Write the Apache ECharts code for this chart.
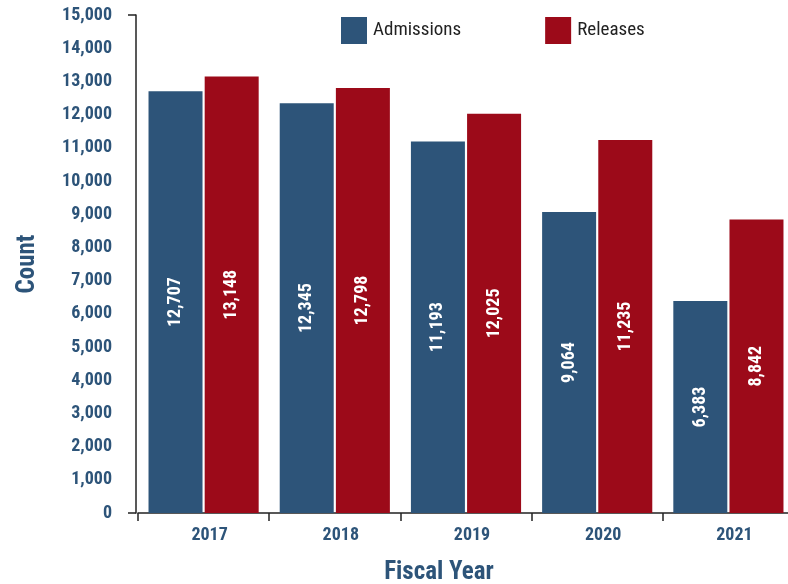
<!DOCTYPE html>
<html>
<head>
<meta charset="utf-8">
<script src="https://cdn.jsdelivr.net/npm/echarts@6/dist/echarts.min.js"></script>
<style>
  html, body { margin: 0; padding: 0; background: #fff; }
  #chart { width: 788px; height: 584px; }
</style>
</head>
<body>
<div id="chart"></div>
<script>
// Fiscal-year counts of admissions and releases
const fiscalYears = ['2017', '2018', '2019', '2020', '2021'];
const admissions = [12707, 12345, 11193, 9064, 6383];
const releases = [13148, 12798, 12025, 11235, 8842];
const yTicks = { min: 0, max: 15000, step: 1000 };

const BLUE = '#2d5479';
const RED = '#9c0a19';
const FONT = '"Roboto Condensed", "DejaVu Sans Condensed", Roboto, sans-serif';

const fmt = v => Number(v).toLocaleString('en-US');

const barLabel = {
  show: true,
  position: 'inside',
  rotate: 90,
  color: '#fff',
  fontFamily: FONT,
  fontWeight: 'bold',
  fontSize: 18,
  formatter: p => fmt(p.value)
};

const chart = echarts.init(document.getElementById('chart'), null, { renderer: 'canvas' });
chart.setOption({
  animation: false,
  backgroundColor: '#fff',
  textStyle: { fontFamily: FONT },
  legend: {
    top: 17,
    left: 341,
    padding: 0,
    itemWidth: 26,
    itemHeight: 27,
    itemGap: 84,
    icon: 'rect',
    textStyle: { fontFamily: FONT, fontSize: 19, color: '#222', padding: [0, 0, 0, 1] },
    data: ['Admissions', 'Releases']
  },
  grid: { left: 138, right: -6, top: 15, bottom: 71, containLabel: false, outerBoundsMode: 'none' },
  xAxis: {
    type: 'category',
    data: fiscalYears,
    boundaryGap: true,
    name: 'Fiscal Year',
    nameLocation: 'middle',
    nameGap: 47,
    nameTextStyle: { fontFamily: FONT, fontWeight: 'bold', fontSize: 25, color: BLUE, padding: [0, 54, 0, 0] },
    axisLine: { show: true, lineStyle: { color: '#222', width: 1.5 } },
    axisTick: { show: true, alignWithLabel: false, length: 8, lineStyle: { color: '#222', width: 1.5 } },
    axisLabel: { fontFamily: FONT, fontWeight: 'bold', fontSize: 18, color: BLUE, margin: 13, padding: [0, 0, 0, 12] },
    splitLine: { show: false }
  },
  yAxis: {
    type: 'value',
    min: yTicks.min,
    max: yTicks.max,
    interval: yTicks.step,
    offset: 2,
    name: 'Count',
    nameLocation: 'middle',
    nameGap: 96,
    nameRotate: 90,
    nameTextStyle: { fontFamily: FONT, fontWeight: 'bold', fontSize: 25, color: BLUE },
    axisLine: { show: true, lineStyle: { color: '#222', width: 1.5 } },
    axisTick: { show: true, length: 8, customValues: [yTicks.min, yTicks.max], lineStyle: { color: '#222', width: 1.5 } },
    axisLabel: { fontFamily: FONT, fontWeight: 'bold', fontSize: 18, color: BLUE, margin: 24, formatter: v => fmt(v) },
    splitLine: { show: false }
  },
  series: [
    {
      name: 'Admissions',
      type: 'bar',
      data: admissions,
      barWidth: 54,
      barGap: '4%',
      itemStyle: { color: BLUE },
      label: barLabel
    },
    {
      name: 'Releases',
      type: 'bar',
      data: releases,
      barWidth: 54,
      itemStyle: { color: RED },
      label: barLabel
    }
  ]
});
</script>
</body>
</html>
